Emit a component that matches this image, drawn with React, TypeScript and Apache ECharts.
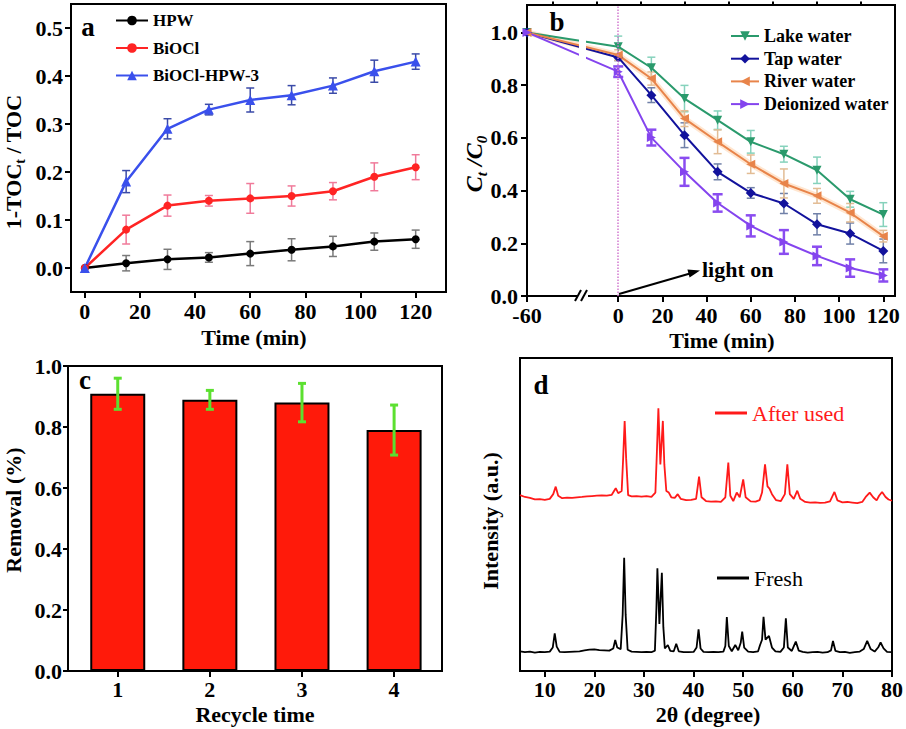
import { useEffect, useRef } from 'react';
import * as echarts from 'echarts';

const FONT = "'Liberation Serif','Times New Roman',serif";

// ---------- Panel a ----------
const aTime = [0, 15, 30, 45, 60, 75, 90, 105, 120];
const aHPW = [0, 0.01, 0.018, 0.022, 0.03, 0.038, 0.045, 0.055, 0.06];
const aHPWErr = [0, 0.016, 0.021, 0.01, 0.025, 0.023, 0.021, 0.018, 0.019];
const aBiOCl = [0, 0.08, 0.13, 0.14, 0.145, 0.15, 0.16, 0.19, 0.21];
const aBiOClErr = [0, 0.03, 0.022, 0.011, 0.031, 0.021, 0.018, 0.029, 0.026];
const aComp = [0, 0.18, 0.29, 0.33, 0.35, 0.36, 0.38, 0.41, 0.43];
const aCompErr = [0, 0.023, 0.021, 0.011, 0.025, 0.02, 0.016, 0.023, 0.016];
const aXTicks = [0, 20, 40, 60, 80, 100, 120];
const aYTicks = [0, 0.1, 0.2, 0.3, 0.4, 0.5];

// ---------- Panel b ----------
const bTime = [-60, 0, 15, 30, 45, 60, 75, 90, 105, 120];
const bLake = [1.0, 0.946, 0.866, 0.749, 0.667, 0.585, 0.538, 0.477, 0.367, 0.309];
const bLakeErr = [0, 0.04, 0.04, 0.05, 0.035, 0.043, 0.03, 0.05, 0.03, 0.045];
const bTap = [1.0, 0.905, 0.762, 0.61, 0.471, 0.391, 0.351, 0.272, 0.237, 0.171];
const bTapErr = [0, 0.012, 0.028, 0.047, 0.03, 0.02, 0.038, 0.04, 0.04, 0.045];
const bRiver = [1.0, 0.914, 0.825, 0.673, 0.585, 0.5, 0.427, 0.38, 0.316, 0.227];
const bRiverErr = [0, 0.02, 0.025, 0.03, 0.045, 0.035, 0.055, 0.028, 0.035, 0.022];
const bDI = [1.0, 0.851, 0.601, 0.471, 0.353, 0.266, 0.205, 0.152, 0.106, 0.078];
const bDIErr = [0, 0.02, 0.03, 0.053, 0.033, 0.04, 0.045, 0.035, 0.033, 0.023];
const bXTicks = [-60, 0, 20, 40, 60, 80, 100, 120];
const bXMinor = [-43, -14, 10, 30, 50, 70, 90, 110];
const bYTicks = [0, 0.2, 0.4, 0.6, 0.8, 1.0];

// ---------- Panel c ----------
const cCycle = [1, 2, 3, 4];
const cRemoval = [0.909, 0.889, 0.88, 0.79];
const cErr = [0.051, 0.031, 0.063, 0.082];

// ---------- Panel d (XRD) ----------
const dXTicks = [10, 20, 30, 40, 50, 60, 70, 80];
const dFresh: number[][] = [
  [5, 6.3], [6, 6.0], [7, 6.2], [8, 5.9], [9, 6.1], [10, 6.0], [11, 6.2], [11.6, 7.5], [12.0, 12.0], [12.4, 7.8],
  [13, 6.1], [14, 6.0], [15, 6.1], [16, 6.2], [17, 6.3], [18, 6.6], [19, 6.8], [20, 6.9], [21, 6.7], [22, 6.6],
  [23, 6.5], [23.8, 7.2], [24.2, 9.9], [24.6, 7.5], [25.3, 7.0], [25.7, 18], [26.0, 36.2], [26.3, 18], [26.7, 6.8],
  [27.5, 6.2], [28.5, 6.1], [29.5, 6.0], [30.5, 6.1], [31.5, 6.0], [32.2, 6.5], [32.5, 20], [32.7, 32.8], [33.1, 15],
  [33.6, 31.4], [33.9, 14], [34.2, 7.2], [34.8, 8.3], [35.3, 6.4], [36.0, 6.3], [36.5, 8.7], [37.0, 6.3], [38, 6.0],
  [39, 6.0], [40, 6.1], [40.6, 7.5], [41.0, 13.3], [41.4, 7.2], [42, 6.1], [43, 6.0], [44, 6.1], [45, 6.0], [46, 6.2],
  [46.4, 8], [46.7, 17.2], [47.1, 8], [47.7, 6.3], [48.4, 8.3], [49.0, 6.6], [49.5, 9], [49.8, 12.6], [50.2, 7.5],
  [51, 6.2], [52, 6.0], [53, 6.3], [53.4, 8.3], [53.8, 10], [54.1, 17.3], [54.5, 10], [55.2, 11.2], [55.8, 7.5],
  [56.5, 6.3], [57.5, 6.1], [58.2, 7.5], [58.6, 16.8], [59.0, 7.5], [59.8, 6.4], [60.6, 9.4], [61.2, 6.5], [62, 6.1],
  [63, 5.9], [64, 6.0], [65, 6.1], [66, 5.9], [67, 6.0], [67.7, 6.6], [68.1, 9.6], [68.6, 6.4], [69.5, 6.0],
  [70.5, 6.1], [71.5, 5.8], [72.5, 6.0], [73.5, 6.2], [74.3, 7.0], [75.0, 9.6], [75.7, 7.0], [76.5, 6.2], [77.2, 7.5],
  [77.7, 9.1], [78.3, 7.2], [79, 6.1], [80, 6.0],
];
const dUsed: number[][] = [
  [5, 56.2], [6, 55.6], [7, 55.3], [8, 54.8], [9, 54.9], [10, 54.7], [11, 55.0], [11.7, 56.5], [12.2, 58.9], [12.7, 56.0],
  [13.5, 55.2], [14.5, 55.4], [15.5, 55.3], [16.5, 55.5], [17.5, 55.6], [18.5, 55.8], [19.5, 55.9], [20.5, 56.0],
  [21.5, 56.1], [22.5, 56.0], [23.5, 56.3], [24.3, 58.4], [24.8, 56.8], [25.5, 57.5], [25.8, 68], [26.1, 79.9],
  [26.4, 68], [26.8, 56.2], [27.5, 55.8], [28.5, 55.9], [29.5, 55.7], [30.5, 55.9], [31.5, 55.6], [32.3, 57],
  [32.6, 70], [32.9, 83.9], [33.3, 66], [33.8, 79.9], [34.1, 66], [34.5, 57.5], [35.0, 57.0], [35.5, 55.5],
  [36.2, 55.3], [36.8, 56.5], [37.4, 55.0], [38.5, 54.6], [39.5, 54.7], [40.5, 55.0], [41.1, 62.1], [41.6, 55.5],
  [42.5, 54.3], [43.5, 54.1], [44.5, 54.2], [45.5, 54.0], [46.4, 55.5], [47.0, 66.6], [47.4, 56], [48.0, 54.3],
  [48.7, 57.0], [49.3, 55.5], [50.0, 61.2], [50.5, 55.5], [51.5, 54.2], [52.5, 54.1], [53.3, 54.6], [53.8, 57.0],
  [54.4, 66.0], [54.9, 59], [55.3, 58.3], [55.8, 56.5], [56.6, 54.6], [57.6, 54.3], [58.4, 56.5], [58.9, 66.0],
  [59.4, 56.5], [60.2, 55.0], [60.9, 57.6], [61.5, 55.0], [62.5, 54.0], [63.5, 53.8], [64.5, 53.9], [65.5, 53.7],
  [66.5, 53.8], [67.5, 54.2], [68.4, 57.2], [69, 54.5], [70, 53.9], [71, 54.0], [72, 53.8], [73, 53.6], [74, 54.0],
  [74.8, 55.8], [75.5, 57.0], [76.2, 55.5], [76.9, 54.5], [77.4, 56], [78.0, 57.2], [78.7, 55.6], [79.3, 54.8],
  [80, 54.4],
];

// broken time axis of panel b: the -60..0 stretch is compressed
const B_COMPRESS = 41.3 / 60;
const bPos = (t: number) => (t < 0 ? t * B_COMPRESS : t);

const boldText = { fontFamily: FONT, fontWeight: 'bold' as const, color: '#000' };

function errSeries(xIdx: number, yIdx: number, xs: number[], ys: number[], es: number[], color: string, width: number, cap: number) {
  return {
    type: 'custom',
    xAxisIndex: xIdx,
    yAxisIndex: yIdx,
    silent: true,
    z: 1,
    data: xs.map((x, i) => [x, ys[i], es[i]]),
    encode: { x: 0, y: 1 },
    renderItem: (_p: any, api: any) => {
      const x = api.value(0);
      const y = api.value(1);
      const e = api.value(2);
      if (!e) return null;
      const t = api.coord([x, y + e]);
      const b = api.coord([x, y - e]);
      const st = { stroke: color, lineWidth: width };
      return {
        type: 'group',
        children: [
          { type: 'line', shape: { x1: t[0], y1: t[1], x2: b[0], y2: b[1] }, style: st },
          { type: 'line', shape: { x1: t[0] - cap, y1: t[1], x2: t[0] + cap, y2: t[1] }, style: st },
          { type: 'line', shape: { x1: b[0] - cap, y1: b[1], x2: b[0] + cap, y2: b[1] }, style: st },
        ],
      };
    },
  };
}

function lineSeries(name: string, xIdx: number, yIdx: number, xs: number[], ys: number[], color: string, symbol: string, size: number, rotate = 0, width = 2.5) {
  return {
    name,
    type: 'line',
    xAxisIndex: xIdx,
    yAxisIndex: yIdx,
    data: xs.map((x, i) => [x, ys[i]]),
    symbol,
    symbolSize: size,
    symbolRotate: rotate,
    lineStyle: { color, width },
    itemStyle: { color },
    z: 2,
  };
}

const axisLineStyle = { show: true, onZero: false, lineStyle: { color: '#000', width: 2 } };
const tickStyle = { lineStyle: { color: '#000', width: 2 } };

function buildOption() {
  const bXs = bTime.map(bPos);
  const tickLabel = (size: number, margin: number) => ({ ...boldText, fontSize: size, margin, lineHeight: 20 });

  return {
    backgroundColor: '#fff',
    animation: false,
    grid: [
      { left: 71, top: 4, width: 375, height: 288, show: true, borderColor: '#000', borderWidth: 2 },
      { left: 527, top: 5, width: 368, height: 291, show: true, borderColor: '#000', borderWidth: 2 },
      { left: 68, top: 366, width: 374, height: 305, show: true, borderColor: '#000', borderWidth: 2 },
      { left: 520, top: 358, width: 373, height: 313, show: true, borderColor: '#000', borderWidth: 2 },
    ],
    xAxis: [
      {
        gridIndex: 0, type: 'value', min: -5, max: 131,
        axisLine: axisLineStyle,
        axisTick: { show: true, customValues: aXTicks, length: 6, ...tickStyle },
        axisLabel: { customValues: aXTicks, ...tickLabel(22, 9) },
        splitLine: { show: false },
      },
      {
        gridIndex: 1, type: 'value', min: bPos(-60), max: 125.3,
        axisLine: axisLineStyle,
        axisTick: { show: true, customValues: bXTicks.map(bPos), length: 6, ...tickStyle },
        axisLabel: {
          customValues: bXTicks.map(bPos), ...tickLabel(22, 9),
          formatter: (v: number) => (v < -1 ? '-60' : String(Math.round(v))),
        },
        splitLine: { show: false },
      },
      {
        gridIndex: 1, type: 'value', min: bPos(-60), max: 125.3,
        axisLine: { show: false, onZero: false },
        axisTick: { show: true, customValues: bXMinor.map(bPos), length: 3.5, ...tickStyle },
        axisLabel: { show: false },
        splitLine: { show: false },
      },
      {
        gridIndex: 2, type: 'value', min: 0.46, max: 4.52,
        axisLine: axisLineStyle,
        axisTick: { show: true, customValues: cCycle, length: 6, ...tickStyle },
        axisLabel: { customValues: cCycle, ...tickLabel(22, 8) },
        splitLine: { show: false },
      },
      {
        gridIndex: 3, type: 'value', min: 5, max: 80,
        axisLine: axisLineStyle,
        axisTick: { show: true, customValues: dXTicks, length: 6, ...tickStyle },
        axisLabel: { customValues: dXTicks, ...tickLabel(22, 8) },
        splitLine: { show: false },
      },
    ],
    yAxis: [
      {
        gridIndex: 0, type: 'value', min: -0.05, max: 0.55,
        axisLine: axisLineStyle,
        axisTick: { show: true, customValues: aYTicks, length: 6, ...tickStyle },
        axisLabel: { customValues: aYTicks, ...tickLabel(22, 8), formatter: (v: number) => v.toFixed(1) },
        splitLine: { show: false },
      },
      {
        gridIndex: 1, type: 'value', min: 0, max: 1.104,
        axisLine: axisLineStyle,
        axisTick: { show: true, customValues: bYTicks, length: 6, ...tickStyle },
        axisLabel: { customValues: bYTicks, ...tickLabel(22, 9), formatter: (v: number) => v.toFixed(1) },
        splitLine: { show: false },
      },
      {
        gridIndex: 2, type: 'value', min: 0, max: 1.0, interval: 0.2,
        axisLine: axisLineStyle,
        axisTick: { show: true, length: 5, ...tickStyle },
        axisLabel: { ...tickLabel(22, 6), formatter: (v: number) => v.toFixed(1) },
        splitLine: { show: false },
      },
      {
        gridIndex: 3, type: 'value', min: 0, max: 100,
        axisLine: axisLineStyle,
        axisTick: { show: false },
        axisLabel: { show: false },
        splitLine: { show: false },
      },
    ],
    legend: [
      {
        orient: 'vertical', left: 110, top: 7, itemWidth: 32, itemHeight: 12, itemGap: 10.5,
        textStyle: { ...boldText, fontSize: 17, lineHeight: 17 },
        data: ['HPW', 'BiOCl', 'BiOCl-HPW-3'],
      },
      {
        orient: 'vertical', left: 725, top: 22, itemWidth: 28, itemHeight: 12, itemGap: 4.7,
        textStyle: { ...boldText, fontSize: 18, lineHeight: 18 },
        data: ['Lake water', 'Tap water', 'River water', 'Deionized water'],
      },
      {
        orient: 'vertical', left: 710, top: 397, itemWidth: 32, itemHeight: 3,
        textStyle: { fontFamily: FONT, fontSize: 22, lineHeight: 22, color: '#ff1a1a' },
        data: [{ name: 'After used', icon: 'rect' }],
      },
      {
        orient: 'vertical', left: 712, top: 562, itemWidth: 32, itemHeight: 3,
        textStyle: { fontFamily: FONT, fontSize: 22, lineHeight: 22, color: '#000' },
        data: [{ name: 'Fresh', icon: 'rect' }],
      },
    ],
    series: [
      // panel a
      errSeries(0, 0, aTime, aHPW, aHPWErr, '#7a7a7a', 1.5, 4),
      errSeries(0, 0, aTime, aBiOCl, aBiOClErr, '#f07a9a', 1.5, 4),
      errSeries(0, 0, aTime, aComp, aCompErr, '#3a4aa8', 1.5, 4),
      lineSeries('HPW', 0, 0, aTime, aHPW, '#000000', 'circle', 8),
      lineSeries('BiOCl', 0, 0, aTime, aBiOCl, '#ff2424', 'circle', 8),
      lineSeries('BiOCl-HPW-3', 0, 0, aTime, aComp, '#3a50ec', 'triangle', 10),
      // panel b
      errSeries(1, 1, bXs, bLake, bLakeErr, '#86d2bc', 1.5, 4),
      errSeries(1, 1, bXs, bTap, bTapErr, '#7080a8', 1.5, 4),
      errSeries(1, 1, bXs, bRiver, bRiverErr, '#e2bc94', 1.5, 4),
      errSeries(1, 1, bXs, bDI, bDIErr, '#8a4cf0', 2.5, 5),
      {
        type: 'line', xAxisIndex: 1, yAxisIndex: 1, silent: true, z: 1,
        data: bXs.map((x, i) => [x, bRiver[i]]), symbol: 'none',
        lineStyle: { color: 'rgba(255,200,150,0.45)', width: 6 },
      },
      {
        ...lineSeries('Lake water', 1, 1, bXs, bLake, '#2a9a6c', 'triangle', 9, 180, 2),
        markLine: {
          silent: true, symbol: ['none', 'none'], label: { show: false },
          lineStyle: { type: 'dotted', color: '#d27ad0', width: 1.5 },
          data: [{ xAxis: 0 }],
        },
      },
      lineSeries('Tap water', 1, 1, bXs, bTap, '#12129c', 'diamond', 10, 0, 2),
      lineSeries('River water', 1, 1, bXs, bRiver, '#e8844a', 'triangle', 9, 90, 2),
      lineSeries('Deionized water', 1, 1, bXs, bDI, '#8444ee', 'triangle', 9, -90, 2),
      // panel c
      {
        type: 'bar', xAxisIndex: 3, yAxisIndex: 2, z: 1,
        data: cCycle.map((c, i) => [c, cRemoval[i]]),
        barWidth: 55,
        itemStyle: { color: '#ff1a0a', borderColor: '#000', borderWidth: 2 },
      },
      { ...errSeries(3, 2, cCycle, cRemoval, cErr, '#5ce030', 3, 4), z: 3 },
      // panel d
      {
        name: 'After used', type: 'line', xAxisIndex: 4, yAxisIndex: 3, data: dUsed, symbol: 'none',
        lineStyle: { color: '#ff1a1a', width: 1.8 }, itemStyle: { color: '#ff1a1a' },
      },
      {
        name: 'Fresh', type: 'line', xAxisIndex: 4, yAxisIndex: 3, data: dFresh, symbol: 'none',
        lineStyle: { color: '#000', width: 1.8 }, itemStyle: { color: '#000' },
      },
    ],
    graphic: [
      // gap in the curves at the axis break of panel b
      { type: 'rect', z: 100, shape: { x: 579, y: 27, width: 7, height: 50 }, style: { fill: '#fff' } },
      { type: 'rect', z: 100, shape: { x: 577, y: 292, width: 11, height: 8 }, style: { fill: '#fff' } },
      { type: 'line', z: 101, shape: { x1: 575, y1: 301, x2: 581, y2: 290 }, style: { stroke: '#000', lineWidth: 2 } },
      { type: 'line', z: 101, shape: { x1: 581, y1: 301, x2: 587, y2: 290 }, style: { stroke: '#000', lineWidth: 2 } },
      // light-on arrow
      { type: 'line', z: 101, shape: { x1: 619, y1: 294, x2: 690, y2: 273.5 }, style: { stroke: '#000', lineWidth: 2 } },
      { type: 'polygon', z: 101, shape: { points: [[700, 270.5], [689.6, 277.6], [687.4, 269.6]] }, style: { fill: '#000' } },
      { type: 'text', z: 101, x: 702, y: 269, style: { text: 'light on', font: `bold 22px ${FONT}`, fill: '#000', align: 'left', verticalAlign: 'middle' } },
      // panel letters
      { type: 'text', z: 101, x: 88, y: 27, style: { text: 'a', font: `bold 27px ${FONT}`, fill: '#000', align: 'center', verticalAlign: 'middle' } },
      { type: 'text', z: 101, x: 557, y: 22, style: { text: 'b', font: `bold 27px ${FONT}`, fill: '#000', align: 'center', verticalAlign: 'middle' } },
      { type: 'text', z: 101, x: 85, y: 380, style: { text: 'c', font: `bold 27px ${FONT}`, fill: '#000', align: 'center', verticalAlign: 'middle' } },
      { type: 'text', z: 101, x: 541, y: 385, style: { text: 'd', font: `bold 27px ${FONT}`, fill: '#000', align: 'center', verticalAlign: 'middle' } },
      // axis titles
      { type: 'text', x: 254, y: 337, style: { text: 'Time (min)', font: `bold 22px ${FONT}`, fill: '#000', align: 'center', verticalAlign: 'middle' } },
      { type: 'text', x: 722, y: 340, style: { text: 'Time (min)', font: `bold 22px ${FONT}`, fill: '#000', align: 'center', verticalAlign: 'middle' } },
      { type: 'text', x: 255, y: 714, style: { text: 'Recycle time', font: `bold 22px ${FONT}`, fill: '#000', align: 'center', verticalAlign: 'middle' } },
      { type: 'text', x: 708, y: 714, style: { text: '2θ (degree)', font: `bold 22px ${FONT}`, fill: '#000', align: 'center', verticalAlign: 'middle' } },
      {
        type: 'text', x: 13, y: 162, rotation: Math.PI / 2,
        style: {
          text: '{m|1-TOC}{s|t}{m| / TOC}', align: 'center', verticalAlign: 'middle', fill: '#000',
          rich: {
            m: { fontSize: 22, fontWeight: 'bold', fontFamily: FONT, fill: '#000', lineHeight: 28 },
            s: { fontSize: 14, fontWeight: 'bold', fontFamily: FONT, fill: '#000', lineHeight: 28, verticalAlign: 'bottom' },
          },
        },
      },
      {
        type: 'text', x: 474, y: 164, rotation: Math.PI / 2,
        style: {
          text: '{m|C}{s|t}{m| /C}{s|0}', align: 'center', verticalAlign: 'middle', fill: '#000',
          rich: {
            m: { fontSize: 24, fontWeight: 'bold', fontStyle: 'italic', fontFamily: FONT, fill: '#000', lineHeight: 30 },
            s: { fontSize: 15, fontWeight: 'bold', fontStyle: 'italic', fontFamily: FONT, fill: '#000', lineHeight: 30, verticalAlign: 'bottom' },
          },
        },
      },
      { type: 'text', x: 13, y: 510, rotation: Math.PI / 2, style: { text: 'Removal (%)', font: `bold 22px ${FONT}`, fill: '#000', align: 'center', verticalAlign: 'middle' } },
      { type: 'text', x: 490, y: 521, rotation: Math.PI / 2, style: { text: 'Intensity (a.u.)', font: `bold 22px ${FONT}`, fill: '#000', align: 'center', verticalAlign: 'middle' } },
    ],
  };
}

export default function App() {
  const ref = useRef<HTMLDivElement>(null);
  useEffect(() => {
    if (!ref.current) return;
    const chart = echarts.init(ref.current, null, { renderer: 'svg' });
    chart.setOption(buildOption() as any);
    return () => chart.dispose();
  }, []);
  return <div ref={ref} style={{ position: 'absolute', left: 0, top: 0, width: 906, height: 729 }} />;
}
